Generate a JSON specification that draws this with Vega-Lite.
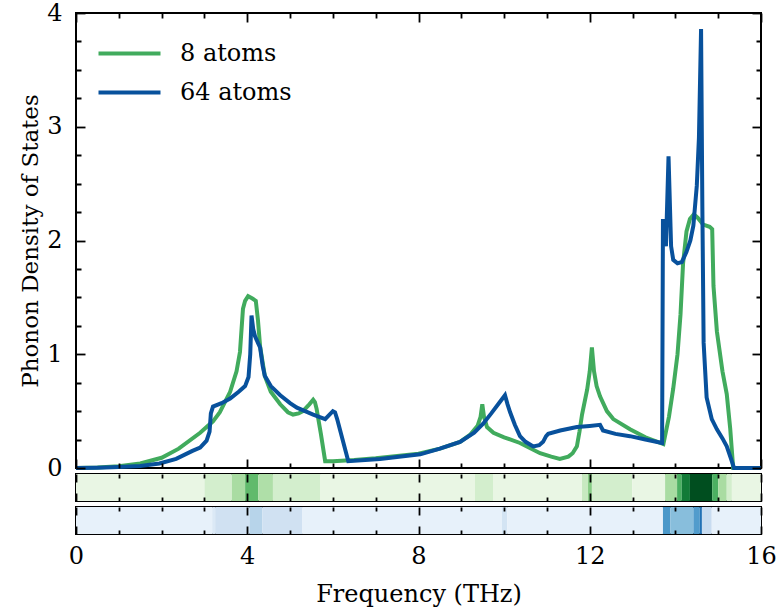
{
  "$schema": "https://vega.github.io/schema/vega-lite/v6.json",
  "padding": {"left": 18, "top": 0, "right": 5, "bottom": 0},
  "spacing": 6,
  "bounds": "flush",
  "config": {
    "font": "DejaVu Serif",
    "view": {"stroke": "black", "strokeWidth": 2},
    "axis": {"domain": false, "grid": false, "ticks": true, "tickColor": "black", "tickWidth": 1.8, "minExtent": 0, "zindex": 1, "labelColor": "black", "titleColor": "black", "labelFont": "DejaVu Serif", "titleFont": "DejaVu Serif", "labelFontSize": 24, "titleFontSize": 24, "titleFontWeight": "normal", "labelFlush": false, "labelOverlap": false},
    "legend": {"labelFont": "DejaVu Serif"}
  },
  "resolve": {"scale": {"color": "independent"}},
  "vconcat": [
    {
      "width": 685,
      "height": 455,
      "data": {"values": [
        {"f":0,"dos":0,"s":"8 atoms"},{"f":0.5,"dos":0.004,"s":"8 atoms"},{"f":1.0,"dos":0.015,"s":"8 atoms"},{"f":1.5,"dos":0.04,"s":"8 atoms"},{"f":2.0,"dos":0.09,"s":"8 atoms"},{"f":2.4,"dos":0.17,"s":"8 atoms"},{"f":2.9,"dos":0.31,"s":"8 atoms"},{"f":3.2,"dos":0.41,"s":"8 atoms"},{"f":3.36,"dos":0.49,"s":"8 atoms"},{"f":3.6,"dos":0.67,"s":"8 atoms"},{"f":3.75,"dos":0.85,"s":"8 atoms"},{"f":3.83,"dos":1.02,"s":"8 atoms"},{"f":3.9,"dos":1.4,"s":"8 atoms"},{"f":3.95,"dos":1.47,"s":"8 atoms"},{"f":4.02,"dos":1.51,"s":"8 atoms"},{"f":4.12,"dos":1.49,"s":"8 atoms"},{"f":4.2,"dos":1.47,"s":"8 atoms"},{"f":4.25,"dos":1.3,"s":"8 atoms"},{"f":4.3,"dos":1.07,"s":"8 atoms"},{"f":4.41,"dos":0.81,"s":"8 atoms"},{"f":4.55,"dos":0.67,"s":"8 atoms"},{"f":4.77,"dos":0.56,"s":"8 atoms"},{"f":4.95,"dos":0.49,"s":"8 atoms"},{"f":5.07,"dos":0.47,"s":"8 atoms"},{"f":5.2,"dos":0.48,"s":"8 atoms"},{"f":5.3,"dos":0.5,"s":"8 atoms"},{"f":5.45,"dos":0.56,"s":"8 atoms"},{"f":5.54,"dos":0.6,"s":"8 atoms"},{"f":5.58,"dos":0.58,"s":"8 atoms"},{"f":5.62,"dos":0.52,"s":"8 atoms"},{"f":5.72,"dos":0.3,"s":"8 atoms"},{"f":5.82,"dos":0.06,"s":"8 atoms"},{"f":6.0,"dos":0.06,"s":"8 atoms"},{"f":6.5,"dos":0.07,"s":"8 atoms"},{"f":7.0,"dos":0.085,"s":"8 atoms"},{"f":7.5,"dos":0.105,"s":"8 atoms"},{"f":8.0,"dos":0.125,"s":"8 atoms"},{"f":8.5,"dos":0.17,"s":"8 atoms"},{"f":8.97,"dos":0.23,"s":"8 atoms"},{"f":9.2,"dos":0.29,"s":"8 atoms"},{"f":9.38,"dos":0.37,"s":"8 atoms"},{"f":9.45,"dos":0.45,"s":"8 atoms"},{"f":9.49,"dos":0.56,"s":"8 atoms"},{"f":9.53,"dos":0.45,"s":"8 atoms"},{"f":9.6,"dos":0.36,"s":"8 atoms"},{"f":9.75,"dos":0.31,"s":"8 atoms"},{"f":10.0,"dos":0.27,"s":"8 atoms"},{"f":10.37,"dos":0.22,"s":"8 atoms"},{"f":10.84,"dos":0.13,"s":"8 atoms"},{"f":11.1,"dos":0.1,"s":"8 atoms"},{"f":11.3,"dos":0.08,"s":"8 atoms"},{"f":11.5,"dos":0.1,"s":"8 atoms"},{"f":11.6,"dos":0.13,"s":"8 atoms"},{"f":11.7,"dos":0.19,"s":"8 atoms"},{"f":11.76,"dos":0.32,"s":"8 atoms"},{"f":11.82,"dos":0.47,"s":"8 atoms"},{"f":11.94,"dos":0.69,"s":"8 atoms"},{"f":12.0,"dos":0.85,"s":"8 atoms"},{"f":12.05,"dos":1.06,"s":"8 atoms"},{"f":12.1,"dos":0.85,"s":"8 atoms"},{"f":12.16,"dos":0.72,"s":"8 atoms"},{"f":12.24,"dos":0.63,"s":"8 atoms"},{"f":12.4,"dos":0.5,"s":"8 atoms"},{"f":12.55,"dos":0.43,"s":"8 atoms"},{"f":12.94,"dos":0.34,"s":"8 atoms"},{"f":13.3,"dos":0.27,"s":"8 atoms"},{"f":13.72,"dos":0.21,"s":"8 atoms"},{"f":13.85,"dos":0.45,"s":"8 atoms"},{"f":13.95,"dos":0.7,"s":"8 atoms"},{"f":14.05,"dos":1.0,"s":"8 atoms"},{"f":14.12,"dos":1.35,"s":"8 atoms"},{"f":14.18,"dos":1.8,"s":"8 atoms"},{"f":14.26,"dos":2.08,"s":"8 atoms"},{"f":14.34,"dos":2.19,"s":"8 atoms"},{"f":14.43,"dos":2.23,"s":"8 atoms"},{"f":14.52,"dos":2.2,"s":"8 atoms"},{"f":14.65,"dos":2.14,"s":"8 atoms"},{"f":14.8,"dos":2.12,"s":"8 atoms"},{"f":14.86,"dos":2.1,"s":"8 atoms"},{"f":14.89,"dos":1.6,"s":"8 atoms"},{"f":14.97,"dos":1.2,"s":"8 atoms"},{"f":15.1,"dos":0.85,"s":"8 atoms"},{"f":15.2,"dos":0.65,"s":"8 atoms"},{"f":15.28,"dos":0.35,"s":"8 atoms"},{"f":15.35,"dos":0,"s":"8 atoms"},{"f":16,"dos":0,"s":"8 atoms"},
        {"f":0,"dos":0,"s":"64 atoms"},{"f":0.5,"dos":0.002,"s":"64 atoms"},{"f":1.0,"dos":0.008,"s":"64 atoms"},{"f":1.5,"dos":0.018,"s":"64 atoms"},{"f":1.95,"dos":0.04,"s":"64 atoms"},{"f":2.34,"dos":0.08,"s":"64 atoms"},{"f":2.72,"dos":0.15,"s":"64 atoms"},{"f":2.9,"dos":0.18,"s":"64 atoms"},{"f":3.05,"dos":0.24,"s":"64 atoms"},{"f":3.12,"dos":0.32,"s":"64 atoms"},{"f":3.15,"dos":0.48,"s":"64 atoms"},{"f":3.2,"dos":0.54,"s":"64 atoms"},{"f":3.4,"dos":0.57,"s":"64 atoms"},{"f":3.6,"dos":0.61,"s":"64 atoms"},{"f":3.8,"dos":0.67,"s":"64 atoms"},{"f":3.95,"dos":0.72,"s":"64 atoms"},{"f":4.03,"dos":0.8,"s":"64 atoms"},{"f":4.07,"dos":1.0,"s":"64 atoms"},{"f":4.1,"dos":1.34,"s":"64 atoms"},{"f":4.14,"dos":1.22,"s":"64 atoms"},{"f":4.18,"dos":1.16,"s":"64 atoms"},{"f":4.25,"dos":1.1,"s":"64 atoms"},{"f":4.3,"dos":1.06,"s":"64 atoms"},{"f":4.36,"dos":0.9,"s":"64 atoms"},{"f":4.41,"dos":0.81,"s":"64 atoms"},{"f":4.55,"dos":0.72,"s":"64 atoms"},{"f":4.77,"dos":0.64,"s":"64 atoms"},{"f":5.0,"dos":0.57,"s":"64 atoms"},{"f":5.16,"dos":0.53,"s":"64 atoms"},{"f":5.35,"dos":0.5,"s":"64 atoms"},{"f":5.54,"dos":0.47,"s":"64 atoms"},{"f":5.82,"dos":0.43,"s":"64 atoms"},{"f":6.0,"dos":0.5,"s":"64 atoms"},{"f":6.05,"dos":0.49,"s":"64 atoms"},{"f":6.1,"dos":0.43,"s":"64 atoms"},{"f":6.36,"dos":0.06,"s":"64 atoms"},{"f":7.1,"dos":0.08,"s":"64 atoms"},{"f":8.04,"dos":0.12,"s":"64 atoms"},{"f":8.5,"dos":0.17,"s":"64 atoms"},{"f":8.97,"dos":0.23,"s":"64 atoms"},{"f":9.3,"dos":0.31,"s":"64 atoms"},{"f":9.51,"dos":0.39,"s":"64 atoms"},{"f":9.7,"dos":0.48,"s":"64 atoms"},{"f":9.9,"dos":0.58,"s":"64 atoms"},{"f":10.02,"dos":0.64,"s":"64 atoms"},{"f":10.08,"dos":0.56,"s":"64 atoms"},{"f":10.14,"dos":0.49,"s":"64 atoms"},{"f":10.25,"dos":0.38,"s":"64 atoms"},{"f":10.37,"dos":0.28,"s":"64 atoms"},{"f":10.5,"dos":0.23,"s":"64 atoms"},{"f":10.68,"dos":0.19,"s":"64 atoms"},{"f":10.82,"dos":0.2,"s":"64 atoms"},{"f":10.91,"dos":0.23,"s":"64 atoms"},{"f":10.98,"dos":0.28,"s":"64 atoms"},{"f":11.03,"dos":0.3,"s":"64 atoms"},{"f":11.31,"dos":0.33,"s":"64 atoms"},{"f":11.7,"dos":0.36,"s":"64 atoms"},{"f":12.0,"dos":0.37,"s":"64 atoms"},{"f":12.24,"dos":0.38,"s":"64 atoms"},{"f":12.31,"dos":0.33,"s":"64 atoms"},{"f":12.6,"dos":0.3,"s":"64 atoms"},{"f":12.94,"dos":0.28,"s":"64 atoms"},{"f":13.3,"dos":0.25,"s":"64 atoms"},{"f":13.69,"dos":0.22,"s":"64 atoms"},{"f":13.71,"dos":2.19,"s":"64 atoms"},{"f":13.74,"dos":2.02,"s":"64 atoms"},{"f":13.78,"dos":1.95,"s":"64 atoms"},{"f":13.84,"dos":2.74,"s":"64 atoms"},{"f":13.9,"dos":1.95,"s":"64 atoms"},{"f":13.95,"dos":1.83,"s":"64 atoms"},{"f":14.05,"dos":1.8,"s":"64 atoms"},{"f":14.15,"dos":1.81,"s":"64 atoms"},{"f":14.26,"dos":1.9,"s":"64 atoms"},{"f":14.35,"dos":2.0,"s":"64 atoms"},{"f":14.42,"dos":2.13,"s":"64 atoms"},{"f":14.5,"dos":2.48,"s":"64 atoms"},{"f":14.55,"dos":2.9,"s":"64 atoms"},{"f":14.6,"dos":3.86,"s":"64 atoms"},{"f":14.63,"dos":2.3,"s":"64 atoms"},{"f":14.66,"dos":1.1,"s":"64 atoms"},{"f":14.73,"dos":0.62,"s":"64 atoms"},{"f":14.85,"dos":0.43,"s":"64 atoms"},{"f":14.97,"dos":0.34,"s":"64 atoms"},{"f":15.1,"dos":0.26,"s":"64 atoms"},{"f":15.2,"dos":0.19,"s":"64 atoms"},{"f":15.3,"dos":0.08,"s":"64 atoms"},{"f":15.37,"dos":0,"s":"64 atoms"},{"f":16,"dos":0,"s":"64 atoms"}
      ]},
      "layer": [
        {
          "mark": {"type": "line", "strokeWidth": 4},
          "encoding": {
            "x": {"field": "f", "type": "quantitative", "scale": {"domain": [0, 16], "nice": false, "zero": false},
              "axis": {"orient": "bottom", "values": [0,1,2,3,4,5,6,7,8,9,10,11,12,13,14,15,16], "labels": false, "domain": false, "ticks": true, "tickSize": 9, "offset": -9, "tickColor": "black", "tickWidth": 1.8, "tickDash": {"condition": {"test": "datum.value % 4 !== 0", "value": [0, 4, 5, 0]}, "value": [9, 0]}, "zindex": 1, "title": null}},
            "y": {"field": "dos", "type": "quantitative", "scale": {"domain": [0, 4], "nice": false},
              "axis": {"orient": "left", "values": [0,0.25,0.5,0.75,1,1.25,1.5,1.75,2,2.25,2.5,2.75,3,3.25,3.5,3.75,4], "labelExpr": "datum.value % 1 === 0 ? format(datum.value, 'd') : ''", "domain": false, "ticks": true, "tickSize": 9, "offset": -9, "tickColor": "black", "tickWidth": 1.8, "tickDash": {"condition": {"test": "datum.value % 1 !== 0", "value": [0, 4, 5, 0]}, "value": [9, 0]}, "zindex": 1, "labelPadding": 14, "labelFontSize": 24, "labelColor": "black", "title": "Phonon Density of States", "titleFontSize": 23, "titleFontWeight": "normal", "titleColor": "black", "titlePadding": 4}},
            "color": {"field": "s", "type": "nominal", "sort": ["8 atoms", "64 atoms"], "scale": {"domain": ["8 atoms", "64 atoms"], "range": ["#41ab5d", "#08519c"]},
              "legend": {"orient": "none", "legendX": 41, "legendY": 28, "title": null, "symbolType": "M-3,0H3", "symbolSize": 427, "symbolStrokeWidth": 4, "symbolFillColor": "transparent", "labelFontSize": 24, "labelFont": "DejaVu Serif", "labelColor": "black", "labelOffset": 38, "rowPadding": 14}}
          }
        },
        {
          "mark": {"type": "line", "opacity": 0},
          "encoding": {
            "x": {"field": "f", "type": "quantitative",
              "axis": {"orient": "top", "values": [0,1,2,3,4,5,6,7,8,9,10,11,12,13,14,15,16], "labels": false, "domain": false, "ticks": true, "tickSize": 9, "offset": -9, "tickColor": "black", "tickWidth": 1.8, "tickDash": {"condition": {"test": "datum.value % 4 !== 0", "value": [0, 4, 5, 0]}, "value": [9, 0]}, "zindex": 1, "title": null}},
            "y": {"field": "dos", "type": "quantitative",
              "axis": {"orient": "right", "values": [0,0.25,0.5,0.75,1,1.25,1.5,1.75,2,2.25,2.5,2.75,3,3.25,3.5,3.75,4], "labels": false, "domain": false, "ticks": true, "tickSize": 9, "offset": -9, "tickColor": "black", "tickWidth": 1.8, "tickDash": {"condition": {"test": "datum.value % 1 !== 0", "value": [0, 4, 5, 0]}, "value": [9, 0]}, "zindex": 1, "title": null}}
          }
        }
      ],
      "resolve": {"axis": {"x": "independent", "y": "independent"}}
    },
    {
      "width": 685,
      "height": 27,
      "data": {"values": [
        {"x0":0,"x1":3.0,"v":0.1},{"x0":3.0,"x1":3.64,"v":0.2},{"x0":3.64,"x1":3.95,"v":0.35},{"x0":3.95,"x1":4.26,"v":0.55},{"x0":4.26,"x1":4.6,"v":0.33},{"x0":4.6,"x1":5.7,"v":0.2},{"x0":5.7,"x1":9.32,"v":0.1},{"x0":9.32,"x1":9.74,"v":0.2},{"x0":9.74,"x1":11.82,"v":0.1},{"x0":11.82,"x1":11.96,"v":0.25},{"x0":11.96,"x1":12.05,"v":0.45},{"x0":12.05,"x1":12.99,"v":0.2},{"x0":12.99,"x1":13.76,"v":0.1},{"x0":13.76,"x1":14.04,"v":0.35},{"x0":14.04,"x1":14.15,"v":0.6},{"x0":14.15,"x1":14.34,"v":0.82},{"x0":14.34,"x1":14.86,"v":0.97},{"x0":14.86,"x1":15.0,"v":0.6},{"x0":15.0,"x1":15.2,"v":0.35},{"x0":15.2,"x1":15.32,"v":0.2},{"x0":15.32,"x1":16,"v":0.1}
      ]},
      "layer": [
        {
          "mark": "rect",
          "encoding": {
            "x": {"field": "x0", "type": "quantitative", "scale": {"domain": [0, 16], "nice": false, "zero": false},
              "axis": {"orient": "bottom", "values": [0,1,2,3,4,5,6,7,8,9,10,11,12,13,14,15,16], "labels": false, "domain": false, "ticks": true, "tickSize": 8, "offset": -8, "tickColor": "black", "tickWidth": 1.8, "tickDash": {"condition": {"test": "datum.value % 4 !== 0", "value": [0, 4, 4, 0]}, "value": [8, 0]}, "zindex": 1, "title": null}},
            "x2": {"field": "x1"},
            "y": {"datum": 0, "type": "quantitative", "scale": {"domain": [0, 1], "nice": false}, "axis": null},
            "y2": {"datum": 1},
            "color": {"field": "v", "type": "quantitative", "scale": {"domain": [0, 0.125, 0.25, 0.375, 0.5, 0.625, 0.75, 0.875, 1], "range": ["#f7fcf5", "#e5f5e0", "#c7e9c0", "#a1d99b", "#74c476", "#41ab5d", "#238b45", "#006d2c", "#00441b"]}, "legend": null}
          }
        },
        {
          "mark": {"type": "rect", "opacity": 0},
          "encoding": {
            "x": {"field": "x0", "type": "quantitative",
              "axis": {"orient": "top", "values": [0,1,2,3,4,5,6,7,8,9,10,11,12,13,14,15,16], "labels": false, "domain": false, "ticks": true, "tickSize": 8, "offset": -8, "tickColor": "black", "tickWidth": 1.8, "tickDash": {"condition": {"test": "datum.value % 4 !== 0", "value": [0, 4, 4, 0]}, "value": [8, 0]}, "zindex": 1, "title": null}},
            "x2": {"field": "x1"},
            "y": {"datum": 0, "type": "quantitative"},
            "y2": {"datum": 1}
          }
        }
      ],
      "resolve": {"axis": {"x": "independent"}}
    },
    {
      "width": 685,
      "height": 27,
      "data": {"values": [
        {"x0":0,"x1":3.18,"v":0.08},{"x0":3.18,"x1":3.25,"v":0.14},{"x0":3.25,"x1":4.05,"v":0.2},{"x0":4.05,"x1":4.35,"v":0.3},{"x0":4.35,"x1":5.28,"v":0.2},{"x0":5.28,"x1":9.95,"v":0.08},{"x0":9.95,"x1":10.07,"v":0.18},{"x0":10.07,"x1":13.71,"v":0.08},{"x0":13.71,"x1":13.88,"v":0.6},{"x0":13.88,"x1":14.42,"v":0.43},{"x0":14.42,"x1":14.57,"v":0.58},{"x0":14.57,"x1":14.62,"v":0.75},{"x0":14.62,"x1":14.85,"v":0.24},{"x0":14.85,"x1":16,"v":0.08}
      ]},
      "layer": [
        {
          "mark": "rect",
          "encoding": {
            "x": {"field": "x0", "type": "quantitative", "scale": {"domain": [0, 16], "nice": false, "zero": false},
              "axis": {"orient": "bottom", "values": [0,1,2,3,4,5,6,7,8,9,10,11,12,13,14,15,16], "labelExpr": "datum.value % 4 === 0 ? datum.label : ''", "domain": false, "ticks": true, "tickSize": 8, "offset": -8, "tickColor": "black", "tickWidth": 1.8, "tickDash": {"condition": {"test": "datum.value % 4 !== 0", "value": [0, 4, 4, 0]}, "value": [8, 0]}, "zindex": 1, "labelPadding": 10, "labelFontSize": 24, "labelColor": "black", "title": "Frequency (THz)", "titleFontSize": 24, "titleFontWeight": "normal", "titleColor": "black", "titlePadding": 14}},
            "x2": {"field": "x1"},
            "y": {"datum": 0, "type": "quantitative", "scale": {"domain": [0, 1], "nice": false}, "axis": null},
            "y2": {"datum": 1},
            "color": {"field": "v", "type": "quantitative", "scale": {"domain": [0, 0.125, 0.25, 0.375, 0.5, 0.625, 0.75, 0.875, 1], "range": ["#f7fbff", "#deebf7", "#c6dbef", "#9ecae1", "#6baed6", "#4292c6", "#2171b5", "#08519c", "#08306b"]}, "legend": null}
          }
        },
        {
          "mark": {"type": "rect", "opacity": 0},
          "encoding": {
            "x": {"field": "x0", "type": "quantitative",
              "axis": {"orient": "top", "values": [0,1,2,3,4,5,6,7,8,9,10,11,12,13,14,15,16], "labels": false, "domain": false, "ticks": true, "tickSize": 8, "offset": -8, "tickColor": "black", "tickWidth": 1.8, "tickDash": {"condition": {"test": "datum.value % 4 !== 0", "value": [0, 4, 4, 0]}, "value": [8, 0]}, "zindex": 1, "title": null}},
            "x2": {"field": "x1"},
            "y": {"datum": 0, "type": "quantitative"},
            "y2": {"datum": 1}
          }
        }
      ],
      "resolve": {"axis": {"x": "independent"}}
    }
  ]
}
